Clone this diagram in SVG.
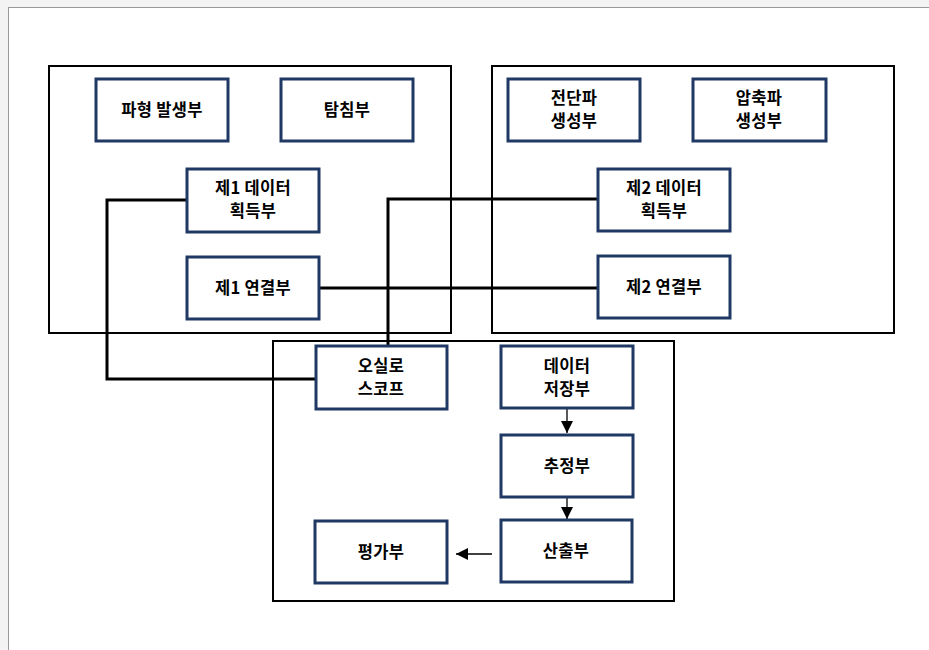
<svg xmlns="http://www.w3.org/2000/svg" width="929" height="650" viewBox="0 0 929 650">
<defs>
<style>
.grp{fill:none;stroke:#000;stroke-width:2}
.nd{fill:#fff;stroke:#203864;stroke-width:3}
.t{font-family:"Noto Sans CJK KR","Noto Sans",sans-serif;font-weight:bold;font-size:16.5px;fill:#000;text-anchor:middle;letter-spacing:0.3px}
.wire{fill:none;stroke:#000;stroke-width:3}
.ar{fill:none;stroke:#000;stroke-width:1.3}
</style>
<marker id="ah" viewBox="0 0 10 10" refX="10" refY="5" markerWidth="12" markerHeight="12" markerUnits="userSpaceOnUse" orient="auto">
<path d="M0,0 L10,5 L0,10 Z" fill="#000"/>
</marker>
</defs>
<rect x="0" y="0" width="929" height="650" fill="#f3f3f3"/>
<rect x="8.5" y="7.5" width="925" height="650" fill="#fff" stroke="#999" stroke-width="1"/>
<g id="groups">
<rect class="grp" x="49" y="66" width="402" height="267"/>
<rect class="grp" x="492" y="66" width="402" height="267"/>
<rect class="grp" x="273" y="341" width="401" height="260"/>
</g>
<g id="connectors">
<polyline class="wire" points="186,200 107,200 107,379 316,379"/>
<polyline class="wire" points="598,199 388,199 388,346"/>
<line class="wire" x1="319" y1="288" x2="597" y2="288"/>
<line class="ar" x1="567" y1="408" x2="567" y2="433" marker-end="url(#ah)"/>
<line class="ar" x1="567" y1="497" x2="567" y2="519" marker-end="url(#ah)"/>
<line class="ar" x1="492" y1="554" x2="456" y2="554" marker-end="url(#ah)"/>
</g>
<g id="n1"><rect class="nd" x="96" y="79" width="132" height="62"/><text class="t" x="162" y="116">파형 발생부</text></g>
<g id="n2"><rect class="nd" x="281" y="79" width="132" height="62"/><text class="t" x="347" y="116">탐침부</text></g>
<g id="n3"><rect class="nd" x="187" y="169" width="132" height="63"/><text class="t" x="253" y="194">제1 데이터</text><text class="t" x="253" y="217">획득부</text></g>
<g id="n4"><rect class="nd" x="187" y="257" width="132" height="62"/><text class="t" x="253" y="294">제1 연결부</text></g>
<g id="n5"><rect class="nd" x="508" y="79" width="132" height="62"/><text class="t" x="574" y="104">전단파</text><text class="t" x="574" y="127">생성부</text></g>
<g id="n6"><rect class="nd" x="693" y="79" width="133" height="62"/><text class="t" x="759" y="104">압축파</text><text class="t" x="759" y="127">생성부</text></g>
<g id="n7"><rect class="nd" x="598" y="169" width="132" height="62"/><text class="t" x="664" y="194">제2 데이터</text><text class="t" x="664" y="217">획득부</text></g>
<g id="n8"><rect class="nd" x="598" y="256" width="132" height="62"/><text class="t" x="664" y="293">제2 연결부</text></g>
<g id="n9"><rect class="nd" x="316" y="346" width="131" height="63"/><text class="t" x="381" y="372">오실로</text><text class="t" x="381" y="395">스코프</text></g>
<g id="n10"><rect class="nd" x="501" y="346" width="132" height="62"/><text class="t" x="567" y="372">데이터</text><text class="t" x="567" y="395">저장부</text></g>
<g id="n11"><rect class="nd" x="501" y="435" width="132" height="62"/><text class="t" x="567" y="472">추정부</text></g>
<g id="n12"><rect class="nd" x="501" y="520" width="131" height="62"/><text class="t" x="566" y="557">산출부</text></g>
<g id="n13"><rect class="nd" x="315" y="521" width="132" height="62"/><text class="t" x="381" y="558">평가부</text></g>
</svg>
